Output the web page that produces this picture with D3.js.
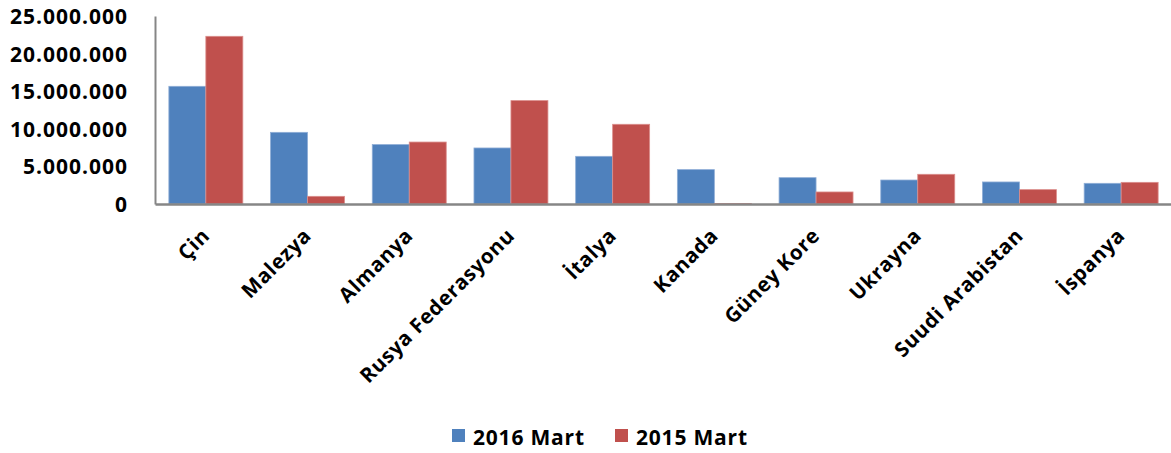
<!DOCTYPE html>
<html>
<head>
<meta charset="utf-8">
<script src="https://cdn.jsdelivr.net/npm/d3@7"></script>
<style>
  html, body { margin: 0; padding: 0; background: #fff; }
  svg { display: block; }
  text { font-family: "Open Sans", "Noto Sans", sans-serif; font-weight: 700; fill: #000; }
</style>
</head>
<body>
<svg id="chart" width="1171" height="453"></svg>
<script>
const categories = ["Çin", "Malezya", "Almanya", "Rusya Federasyonu", "İtalya", "Kanada", "Güney Kore", "Ukrayna", "Suudi Arabistan", "İspanya"];
const seriesNames = ["2016 Mart", "2015 Mart"];
const values2016 = [15650000, 9530000, 7900000, 7450000, 6340000, 4570000, 3500000, 3190000, 2930000, 2750000];
const values2015 = [22300000, 1020000, 8240000, 13750000, 10600000, 60000, 1600000, 3950000, 1910000, 2880000];
const yTicks = [0, 5000000, 10000000, 15000000, 20000000, 25000000];
const colors = ["#4F81BD", "#C0504D"];

(function () {
const svg = d3.select("#chart");
const mLeft = 155, mRight = 1172, mTop = 16, mBottom = 204;

const x = d3.scaleBand().domain(categories).range([mLeft, mRight]).paddingInner(0).paddingOuter(0);
const xs = d3.scaleBand().domain(seriesNames).range([0, x.bandwidth()]).paddingInner(0).paddingOuter(0.375);
const y = d3.scaleLinear().domain([0, 25000000]).range([mBottom, mTop]);

const fmt = v => d3.format(",")(v).replace(/,/g, ".");

// bars
const data = [values2016, values2015];
data.forEach((vals, si) => {
  svg.append("g").selectAll("rect").data(categories).join("rect")
    .attr("x", d => x(d) + xs(seriesNames[si]))
    .attr("y", (d, i) => y(vals[i]))
    .attr("width", xs.bandwidth())
    .attr("height", (d, i) => y(0) - y(vals[i]))
    .attr("fill", colors[si])
    .attr("stroke", si === 0 ? "#8EADD6" : "#DB8E8C")
    .attr("stroke-width", 0.8);
});

// y axis
const yAxis = d3.axisLeft(y).tickValues(yTicks).tickSize(0).tickPadding(27).tickFormat(fmt);
const gy = svg.append("g").attr("transform", `translate(${mLeft},0)`).call(yAxis);
gy.select(".domain").attr("stroke", "#868686").attr("stroke-width", 2);
gy.selectAll("text").style("font-size", "21px").style("letter-spacing", "1px")
  .attr("font-family", null).attr("dy", "0.36em");
gy.attr("font-family", null).attr("font-size", null);

// x axis
const xAxis = d3.axisBottom(x).tickSize(0).tickFormat("");
const gx = svg.append("g").attr("transform", `translate(0,${mBottom})`).call(xAxis);
gx.select(".domain").attr("stroke", "#868686").attr("stroke-width", 2.5);

// x labels
svg.append("g").selectAll("text").data(categories).join("text")
  .attr("transform", d => `translate(${x(d) + x.bandwidth() / 2 + 5},${mBottom + 33}) rotate(-45)`)
  .attr("text-anchor", "end")
  .style("font-size", "20.5px")
  .style("letter-spacing", "0.6px")
  .text(d => d);

// legend
const legendX = [452, 615];
const lg = svg.append("g");
seriesNames.forEach((s, i) => {
  lg.append("rect").attr("x", legendX[i]).attr("y", 429).attr("width", 13).attr("height", 13).attr("fill", colors[i]);
  lg.append("text").attr("x", legendX[i] + 21).attr("y", 445)
    .style("font-size", "21px").style("letter-spacing", "0.8px").text(s);
});
})();
</script>
</body>
</html>
